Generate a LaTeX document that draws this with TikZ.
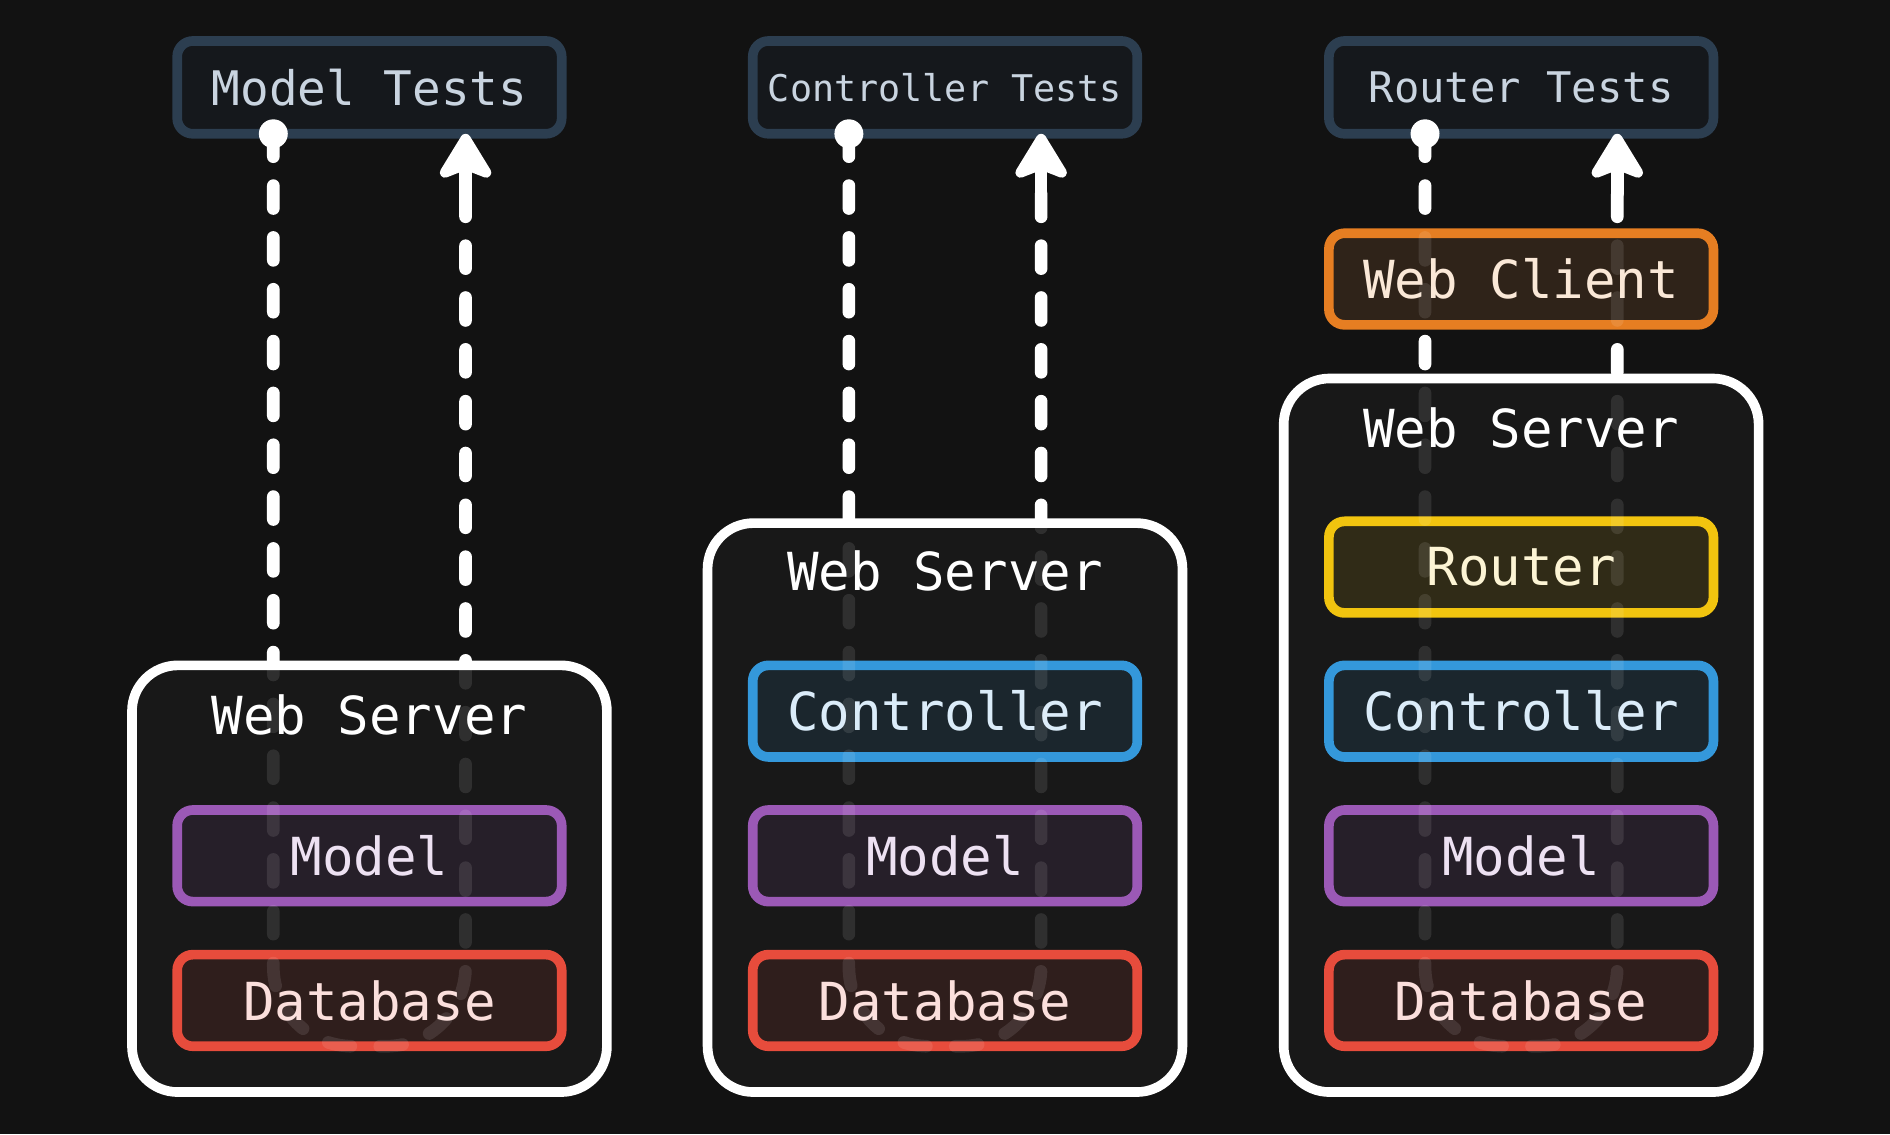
\documentclass[tikz,border=0pt]{standalone}
\usepackage{fontspec}
\setmonofont{DejaVu Sans Mono}
\usetikzlibrary{arrows.meta,calc}
\pgfdeclarelayer{bg}
\pgfdeclarelayer{tests}
\pgfdeclarelayer{conn}
\pgfdeclarelayer{top}
\pgfsetlayers{bg,tests,conn,main,top}
\definecolor{bgc}{HTML}{121212}
\definecolor{srvfill}{HTML}{181818}
\definecolor{testline}{HTML}{2C3E50}
\definecolor{testfill}{HTML}{15181C}
\definecolor{testtext}{HTML}{C9D4E0}
\definecolor{modelc}{HTML}{9B59B6}
\definecolor{dbc}{HTML}{E74C3C}
\definecolor{ctrlc}{HTML}{3498DB}
\definecolor{routc}{HTML}{F1C40F}
\definecolor{clientc}{HTML}{E67E22}
\tikzset{
  comp/.style={draw=#1, fill=#1!11!srvfill, text=#1!18!white, line width=8pt,
    rounded corners=13pt, minimum width=319pt, minimum height=76pt,
    inner sep=0pt, outer sep=0pt, font=\ttfamily\fontsize{43.5}{50}\selectfont},
  testbox/.style={draw=testline, fill=testfill, text=testtext, line width=8pt,
    rounded corners=13pt, minimum width=319pt, minimum height=77pt,
    inner sep=0pt, outer sep=0pt},
  srvbox/.style={draw=white, fill=srvfill, line width=8pt, rounded corners=38pt,
    minimum width=394pt, inner sep=0pt, outer sep=0pt},
  srvtitle/.style={text=white, inner sep=0pt, font=\ttfamily\fontsize{43.5}{50}\selectfont},
  flow/.style={draw=white, line width=10.5pt, line cap=round, rounded corners=66pt,
    dash pattern=on 19pt off 24pt},
  faint/.style={flow, opacity=0.1},
  stem/.style={draw=white, line width=10.5pt, line cap=round,
    -{Stealth[length=44pt,width=53pt,inset=10pt,round]}},
  dot/.style={fill=white}
}
\begin{document}
\begin{tikzpicture}[x=1pt,y=-1pt]
\begin{pgfonlayer}{bg}
\fill[bgc] (0,0) rectangle (1568,941);
\end{pgfonlayer}
\useasboundingbox (0,0) rectangle (1568,941);
% test boxes
\begin{pgfonlayer}{tests}
\node[testbox, font=\ttfamily\fontsize{39.5}{45}\selectfont] (t1) at (306.5,72.5) {Model Tests};
\node[testbox, font=\ttfamily\fontsize{30.5}{36}\selectfont] (t2) at (784,72.5) {Controller Tests};
\node[testbox, font=\ttfamily\fontsize{35}{40}\selectfont] (t3) at (1262,72.5) {Router Tests};
\end{pgfonlayer}
% web servers
\node[srvbox, minimum height=354pt] (ws1) at (306.5,729) {};
\node[srvbox, minimum height=472pt] (ws2) at (784,670) {};
\node[srvbox, minimum height=592pt] (ws3) at (1262,610) {};
\node[srvtitle] (wst1) at (306.5,593) {Web Server};
\node[srvtitle] (wst2) at (784,474) {Web Server};
\node[srvtitle] (wst3) at (1262,355) {Web Server};
% components
\node[comp=modelc] (m1) at (306.5,710) {Model};
\node[comp=dbc] (d1) at (306.5,830) {Database};
\node[comp=ctrlc] (c2) at (784,590) {Controller};
\node[comp=modelc] (m2) at (784,710) {Model};
\node[comp=dbc] (d2) at (784,830) {Database};
\node[comp=clientc] (wc) at (1262,231.5) {Web Client};
\node[comp=routc] (r3) at (1262,470.5) {Router};
\node[comp=ctrlc] (c3) at (1262,590) {Controller};
\node[comp=modelc] (m3) at (1262,710) {Model};
\node[comp=dbc] (d3) at (1262,830) {Database};
% connector end points
\foreach \t in {t1,t2,t3}{
  \coordinate (\t L) at ($(\t.south west)!0.25!(\t.south east)$);
  \coordinate (\t R) at ($(\t.south west)!0.75!(\t.south east)$);
  \coordinate (\t S) at ($(\t R)+(0,49.35)$);
}
\begin{pgfonlayer}{conn}
\foreach \t/\d in {t1/d1,t2/d2,t3/d3}{
  \draw[flow] (\t L) -- (\t L |- \d.south) -- (\t R |- \d.south) -- (\t S);
  \draw[stem] (\t S) -- (\t R);
  \fill[dot] (\t L) circle[radius=12pt];
}
\end{pgfonlayer}
\begin{pgfonlayer}{top}
\foreach \t/\d in {t1/d1,t2/d2,t3/d3}{
  \draw[faint] (\t L) -- (\t L |- \d.south) -- (\t R |- \d.south) -- (\t S);
}
\end{pgfonlayer}
\end{tikzpicture}
\end{document}
